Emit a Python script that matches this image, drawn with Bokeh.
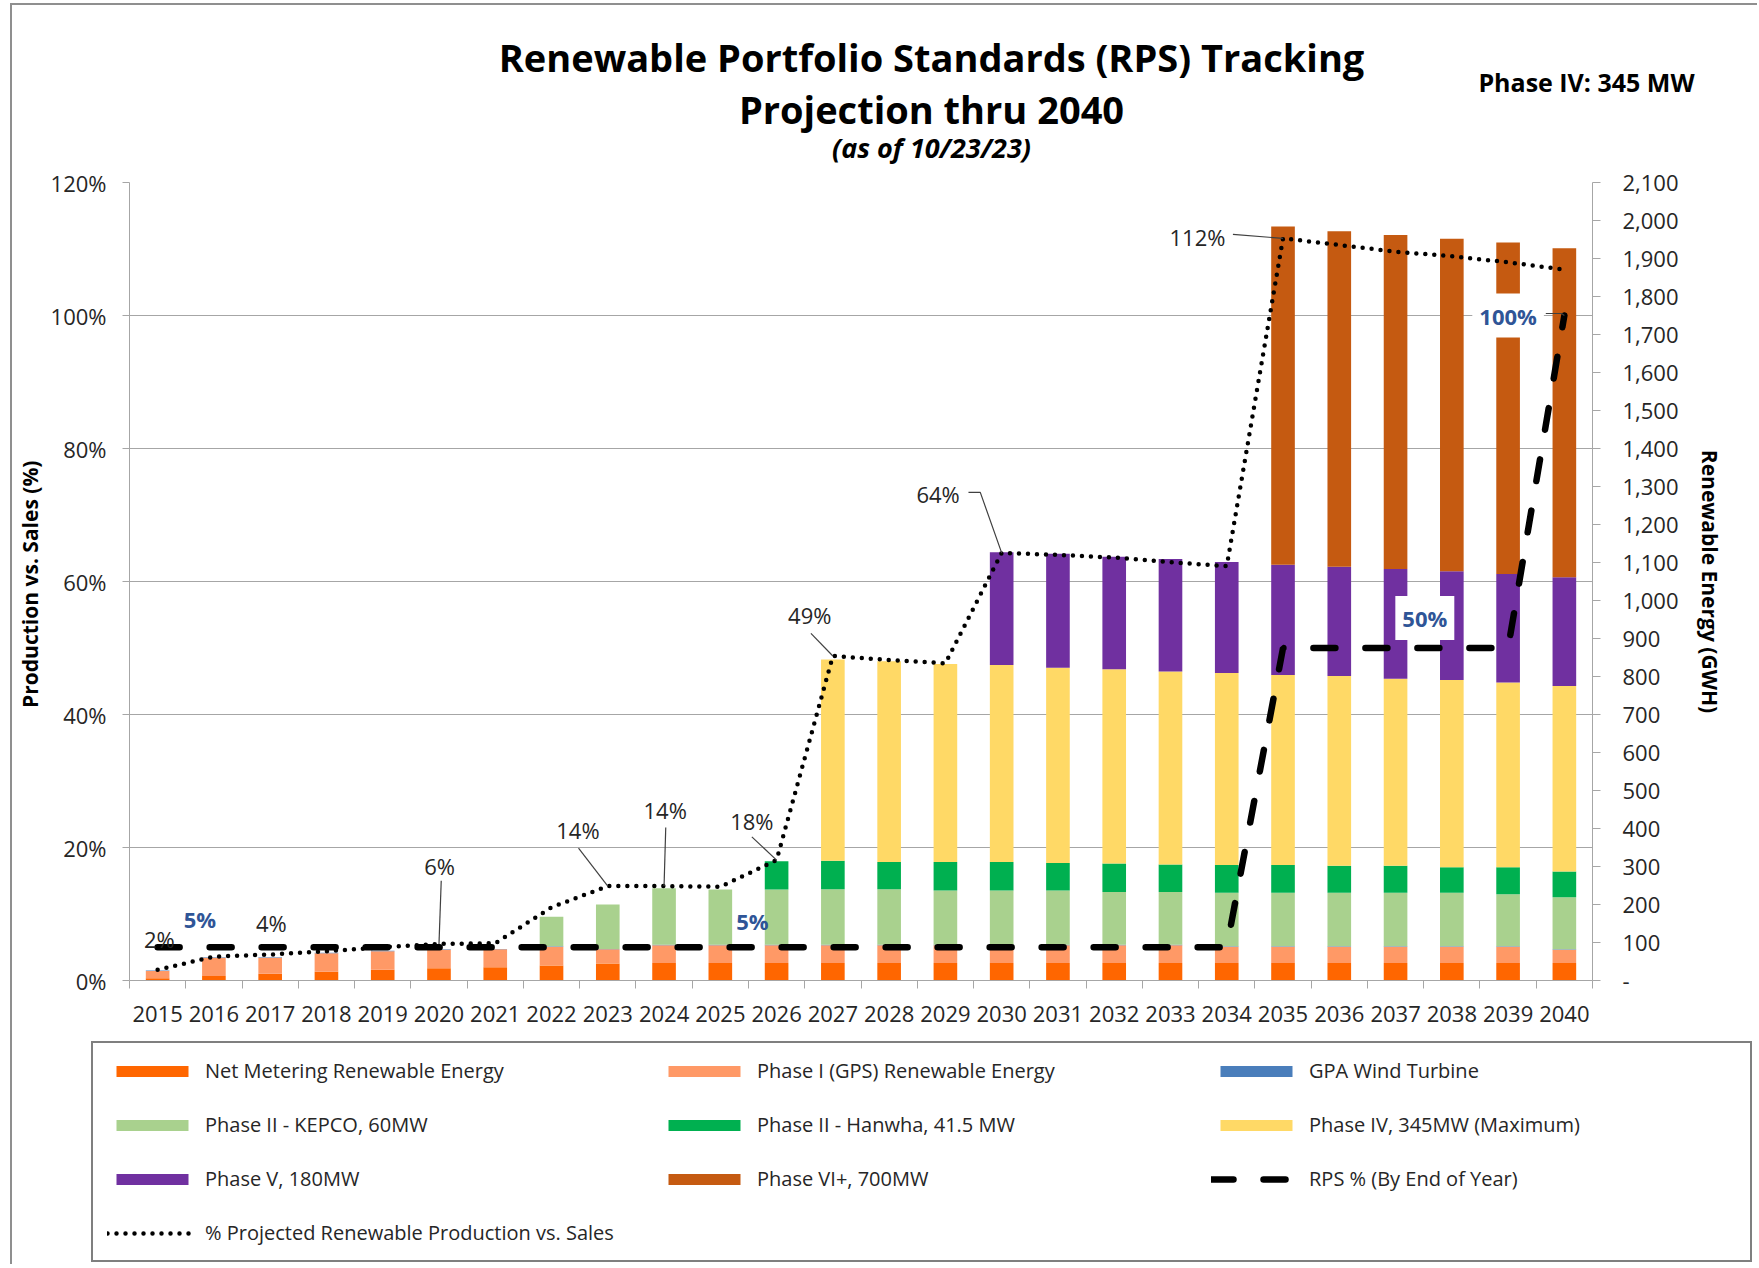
from bokeh.plotting import figure
from bokeh.layouts import column, row
from bokeh.models import (ColumnDataSource, Range1d, LinearAxis, FixedTicker,
                          PrintfTickFormatter, NumeralTickFormatter, Legend,
                          LegendItem, Label)
from bokeh.embed import file_html
from bokeh.resources import INLINE

# ---------------- data ----------------
years = [2015, 2016, 2017, 2018, 2019, 2020, 2021, 2022, 2023, 2024, 2025, 2026, 2027,
         2028, 2029, 2030, 2031, 2032, 2033, 2034, 2035, 2036, 2037, 2038, 2039, 2040]

# Renewable energy by source (GWh)
net_metering = [6, 12, 18, 23, 28, 32, 35, 39.5, 45, 46, 46, 46, 46,
                46, 46, 46, 46, 46, 46, 46, 46, 46, 46, 46, 46, 46]
phase1_gps = [19, 48, 42, 49, 49, 49, 47, 49.5, 37, 47, 47, 47, 47,
              47, 47, 47, 47, 47, 47, 43, 43, 43, 43, 43, 43, 35]
gpa_wind = [1, 1, 1, 1, 1, 1, 1, 1, 1, 1, 1, 1, 1,
            1, 1, 1, 1, 1, 1, 1, 1, 1, 1, 1, 1, 1]
phase2_kepco = [0, 0, 0, 0, 0, 0, 0, 78, 117, 149, 145.5, 145.5, 146,
                146, 143, 143, 143, 139, 139, 141, 141, 141, 141, 141, 137, 137]
phase2_hanwha = [0, 0, 0, 0, 0, 0, 0, 0, 0, 0, 0, 74.5, 75,
                 72, 75, 75, 72, 75, 72, 73, 73, 71, 71, 67, 71, 68]
phase4 = [0, 0, 0, 0, 0, 0, 0, 0, 0, 0, 0, 0, 530,
          528, 521, 518, 514, 511, 508, 505, 500, 499, 492, 493, 486, 488]
phase5 = [0, 0, 0, 0, 0, 0, 0, 0, 0, 0, 0, 0, 0,
          0, 0, 297, 300, 296, 296, 292, 290, 288, 289, 286, 286, 286]
phase6 = [0, 0, 0, 0, 0, 0, 0, 0, 0, 0, 0, 0, 0,
          0, 0, 0, 0, 0, 0, 0, 890, 883, 879, 875, 872, 866]

# Percent lines
rps_pct = [5, 5, 5, 5, 5, 5, 5, 5, 5, 5, 5, 5, 5,
           5, 5, 5, 5, 5, 5, 5, 50, 50, 50, 50, 50, 100]
projected_pct = [1.6, 3.6, 3.9, 4.4, 5.0, 5.5, 5.6, 11.0, 14.2, 14.2, 14.1, 18.1, 48.8,
                 48.2, 47.7, 64.3, 64.0, 63.6, 62.9, 62.3, 111.6, 110.6, 109.6, 108.9, 108.0, 106.9]

series_names = ["Net Metering Renewable Energy", "Phase I (GPS) Renewable Energy",
                "GPA Wind Turbine", "Phase II - KEPCO, 60MW", "Phase II - Hanwha, 41.5 MW",
                "Phase IV, 345MW (Maximum)", "Phase V, 180MW", "Phase VI+, 700MW"]
rps_name = "RPS % (By End of Year)"
projected_name = "% Projected Renewable Production vs. Sales"

pct_ticks = [0, 20, 40, 60, 80, 100, 120]
gwh_ticks = [0, 100, 200, 300, 400, 500, 600, 700, 800, 900, 1000, 1100, 1200, 1300,
             1400, 1500, 1600, 1700, 1800, 1900, 2000, 2100]

title_lines = ["Renewable Portfolio Standards (RPS) Tracking", "Projection thru 2040"]
subtitle = "(as of 10/23/23)"
note = "Phase IV: 345 MW"

# ---------------- styles ----------------
colors = ["#FF6600", "#FF9966", "#4A7EBB", "#A9D18E", "#00B050",
          "#FFD966", "#7030A0", "#C55A11"]
FONT = "Open Sans"
TXT = "#262626"
BLUE = "#2F5597"
GRID = "#A6A6A6"
W = 1745                     # content width (page starts at x=12 after the frame border)
H_TITLE, H_MAIN, H_LEG = 161, 864, 234

keys = ["nm", "p1", "wind", "kepco", "hanwha", "p4", "p5", "p6"]
source = ColumnDataSource(dict(year=years, nm=net_metering, p1=phase1_gps, wind=gpa_wind,
                               kepco=phase2_kepco, hanwha=phase2_hanwha, p4=phase4,
                               p5=phase5, p6=phase6))

RPS_STYLE = dict(line_color="black", line_width=6.5, line_dash="22 30", line_cap="round")
PROJ_STYLE = dict(line_color="black", line_width=4.5, line_dash="0 9", line_cap="round")


def bare_figure(height, y_flip=False):
    f = figure(width=W, height=height, output_backend="svg", toolbar_location=None,
               x_range=Range1d(0, W),
               y_range=Range1d(height, 0) if y_flip else Range1d(0, height),
               x_axis_type=None, y_axis_type=None, min_border=0)
    f.grid.visible = False
    f.outline_line_color = None
    f.background_fill_color = "white"
    f.border_fill_color = "white"
    return f


# ---------------- title block ----------------
pt = bare_figure(H_TITLE, y_flip=True)
for txt, x, y, size, style in [
        (title_lines[0], 919, 51, "38px", "bold"),
        (title_lines[1], 919, 103, "38px", "bold"),
        (subtitle, 919, 142, "27px", "bold italic"),
        (note, 1574, 76, "25px", "bold")]:
    pt.add_layout(Label(x=x, y=y, text=txt, text_align="center", text_baseline="middle",
                        text_font=FONT, text_font_size=size, text_font_style=style,
                        text_color="black"))

# ---------------- main chart ----------------
p = figure(width=W, height=H_MAIN, output_backend="svg", toolbar_location=None,
           x_range=Range1d(years[0] - 0.5, years[-1] + 0.5),
           y_range=Range1d(pct_ticks[0], pct_ticks[-1]),
           min_border_left=115, min_border_right=W - 1580, min_border_top=16,
           min_border_bottom=50)
p.extra_y_ranges = {"gwh": Range1d(gwh_ticks[0], gwh_ticks[-1])}
p.outline_line_color = None
p.background_fill_color = "white"
p.border_fill_color = "white"

bar_renderers = p.vbar_stack(keys, x="year", width=0.42, color=colors, line_color=None,
                             source=source, y_range_name="gwh")
rps_r = p.line(years, rps_pct, **RPS_STYLE)
proj_r = p.line(years, projected_pct, **PROJ_STYLE)

xax = p.xaxis[0]
xax.ticker = FixedTicker(ticks=years, minor_ticks=[y - 0.5 for y in years] + [years[-1] + 0.5])
xax.formatter = PrintfTickFormatter(format="%d")
xax.major_tick_out = 0
xax.major_tick_in = 0
xax.minor_tick_out = 8
xax.minor_tick_in = 0
xax.minor_tick_line_color = GRID
xax.axis_line_color = GRID
xax.major_label_standoff = 17
xax.major_label_text_font = FONT
xax.major_label_text_font_size = "22px"
xax.major_label_text_color = TXT
p.xgrid.visible = False

yax = p.yaxis[0]
yticker = FixedTicker(ticks=pct_ticks)
yax.ticker = yticker
yax.formatter = PrintfTickFormatter(format="%d%%")
yax.major_tick_out = 7
yax.major_tick_in = 0
yax.minor_tick_out = 0
yax.minor_tick_in = 0
yax.major_tick_line_color = GRID
yax.axis_line_color = GRID
yax.major_label_standoff = 16
yax.major_label_text_font = FONT
yax.major_label_text_font_size = "22px"
yax.major_label_text_color = TXT
yax.axis_label = "Production  vs. Sales (%)"
yax.axis_label_text_font = FONT
yax.axis_label_text_font_style = "bold"
yax.axis_label_text_font_size = "21px"
yax.axis_label_text_color = "black"
yax.axis_label_standoff = 4
p.ygrid.ticker = yticker
p.ygrid.grid_line_color = GRID

rax = LinearAxis(y_range_name="gwh", ticker=FixedTicker(ticks=gwh_ticks),
                 formatter=NumeralTickFormatter(format="0,0"),
                 major_label_overrides={0: "-"})
rax.major_tick_out = 8
rax.major_tick_in = 0
rax.minor_tick_out = 0
rax.minor_tick_in = 0
rax.major_tick_line_color = GRID
rax.axis_line_color = GRID
rax.major_label_standoff = 22
rax.major_label_text_font = FONT
rax.major_label_text_font_size = "22px"
rax.major_label_text_color = TXT
rax.axis_label = "Renewable Energy (GWH)"
rax.axis_label_text_font = FONT
rax.axis_label_text_font_style = "bold"
rax.axis_label_text_font_size = "21px"
rax.axis_label_text_color = "black"
rax.axis_label_standoff = 14
p.add_layout(rax, "right")

# data labels with leader lines
# (index into years, text, label x, label y, leader points before the data point)
label_specs = [
    (0, "2%", 2015.03, 6.3, []),
    (2, "4%", 2017.02, 8.6, []),
    (5, "6%", 2020.01, 17.2, [(2020.04, 15.0)]),
    (8, "14%", 2022.47, 22.6, [(2022.48, 19.9)]),
    (9, "14%", 2024.02, 25.7, [(2024.03, 23.0)]),
    (11, "18%", 2025.56, 24.0, [(2025.56, 21.6)]),
    (12, "49%", 2026.59, 55.0, [(2026.61, 52.2)]),
    (15, "64%", 2028.87, 73.2, [(2029.41, 73.4), (2029.62, 73.4)]),
    (20, "112%", 2033.48, 111.8, [(2034.11, 112.2)]),
]
rps_label_specs = [
    (1, "5%", 2015.75, 9.3, []),
    (10, "5%", 2025.57, 8.9, []),
    (22, "50%", 2037.52, 54.5, []),
    (25, "100%", 2039.0, 100.0, [(2039.67, 100.3), (2039.95, 100.3)]),
]

lead_xs, lead_ys = [], []
for idx, txt, lx, ly, pts in label_specs:
    if pts:
        lead_xs.append([q[0] for q in pts] + [years[idx]])
        lead_ys.append([q[1] for q in pts] + [projected_pct[idx]])
for idx, txt, lx, ly, pts in rps_label_specs:
    if pts:
        lead_xs.append([q[0] for q in pts] + [years[idx]])
        lead_ys.append([q[1] for q in pts] + [rps_pct[idx]])
p.multi_line(lead_xs, lead_ys, line_color="#404040", line_width=1.2)

for idx, txt, lx, ly, pts in label_specs:
    p.add_layout(Label(x=lx, y=ly, text=txt, text_align="center", text_baseline="middle",
                       text_font=FONT, text_font_size="22px", text_color=TXT))
for idx, txt, lx, ly, pts in rps_label_specs:
    boxed = txt in ("50%", "100%")
    p.add_layout(Label(x=lx, y=ly, text=txt, text_align="center", text_baseline="middle",
                       text_font=FONT, text_font_size="22px", text_font_style="bold",
                       text_color=BLUE,
                       background_fill_color="white" if boxed else None,
                       padding=7 if boxed else 0))

# ---------------- legend block ----------------
pl = bare_figure(H_LEG)
leg_bars = pl.vbar_stack(keys, x="year", width=0.42, color=colors, line_color=None,
                         source=source, visible=False)
leg_rps = pl.line(years, rps_pct, visible=False, **RPS_STYLE)
leg_proj = pl.line(years, projected_pct, visible=False, **PROJ_STYLE)

items = [LegendItem(label=n, renderers=[r]) for n, r in zip(series_names, leg_bars)]
items.append(LegendItem(label=rps_name, renderers=[leg_rps]))
items.append(LegendItem(label=projected_name, renderers=[leg_proj]))
legend = Legend(items=items, location=(79, 2), orientation="horizontal", ncols=3,
                padding=14, spacing=27, margin=0, glyph_width=90, glyph_height=14,
                label_standoff=8, label_width=427, label_height=26,
                label_text_font=FONT, label_text_font_size="20px", label_text_color=TXT,
                border_line_color="black", border_line_width=2,
                background_fill_color="white", background_fill_alpha=1.0,
                inactive_fill_alpha=0.0)
pl.add_layout(legend, "center")

layout = column(row(pt), p, row(pl), spacing=0,
                styles={"margin-left": "10px", "margin-top": "3px",
                        "border-left": "2px solid #8f8f8f", "border-top": "2px solid #8f8f8f"})
open("out.html", "w").write(file_html(layout, INLINE))
